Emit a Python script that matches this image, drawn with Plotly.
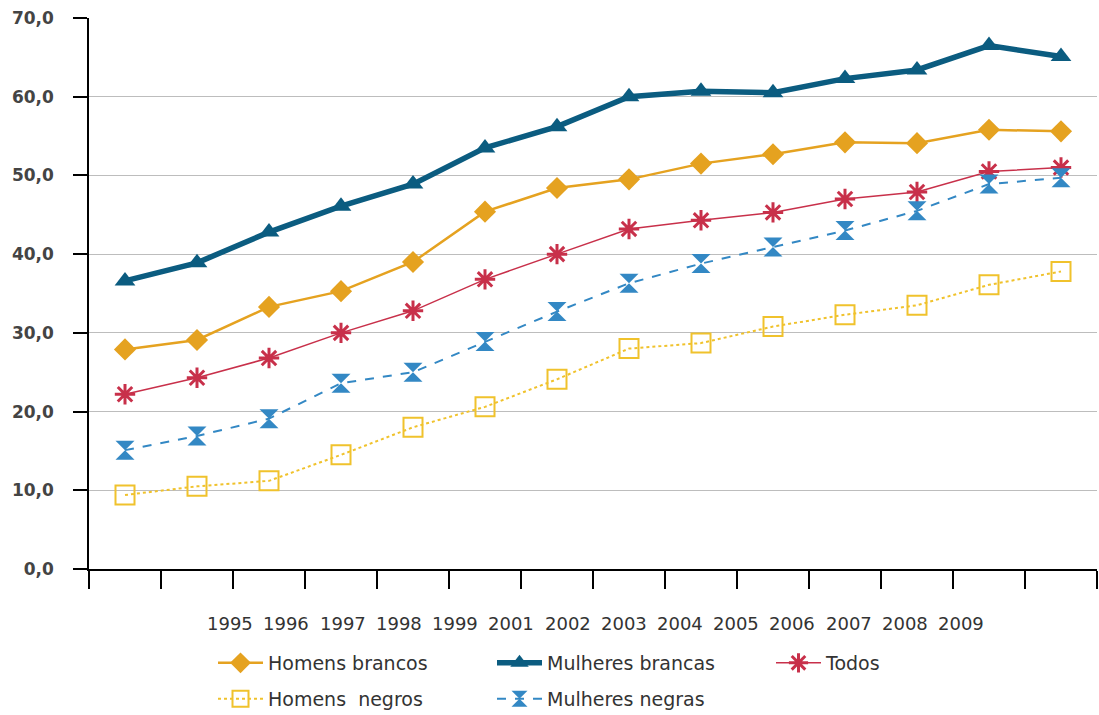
import plotly.graph_objects as go

# ---- data ----
year_labels = ["1995", "1996", "1997", "1998", "1999", "2001", "2002",
               "2003", "2004", "2005", "2006", "2007", "2008", "2009"]
point_index = list(range(14))

homens_brancos = [27.9, 29.1, 33.3, 35.3, 39.0, 45.4, 48.4, 49.5, 51.5, 52.7, 54.2, 54.1, 55.8, 55.6]
mulheres_brancas = [36.6, 38.9, 42.8, 46.1, 48.9, 53.5, 56.2, 60.0, 60.7, 60.5, 62.3, 63.4, 66.5, 65.1]
todos = [22.2, 24.3, 26.8, 30.0, 32.8, 36.8, 40.0, 43.2, 44.3, 45.3, 47.0, 47.9, 50.5, 51.0]
homens_negros = [9.4, 10.5, 11.2, 14.5, 18.0, 20.6, 24.1, 28.0, 28.7, 30.8, 32.3, 33.5, 36.1, 37.8]
mulheres_negras = [15.1, 16.9, 19.1, 23.6, 25.0, 28.9, 32.7, 36.3, 38.8, 40.9, 43.0, 45.5, 48.9, 49.7]

# ---- styling ----
FONT = "DejaVu Sans"
TXT = "#333333"
C_HB = "#E5A220"
C_MB = "#0B5C80"
C_TD = "#C8304A"
C_HN = "#F0C22C"
C_MN = "#3388C4"

# points sit in the middle of each category slot
xs = [i + 0.5 for i in point_index]

fig = go.Figure()

fig.add_trace(go.Scatter(
    x=xs, y=homens_brancos, name="Homens brancos", mode="lines+markers",
    line=dict(color=C_HB, width=2.5),
    marker=dict(symbol="diamond", size=17, color=C_HB),
    legend="legend"))
fig.add_trace(go.Scatter(
    x=xs, y=mulheres_brancas, name="Mulheres brancas", mode="lines+markers",
    line=dict(color=C_MB, width=5.5),
    marker=dict(symbol="triangle-up", size=18, color=C_MB),
    legend="legend"))
fig.add_trace(go.Scatter(
    x=xs, y=todos, name="Todos", mode="lines+markers",
    line=dict(color=C_TD, width=1.5),
    marker=dict(symbol="asterisk-open", size=17, color=C_TD,
                line=dict(color=C_TD, width=3)),
    legend="legend"))
fig.add_trace(go.Scatter(
    x=xs, y=homens_negros, name="Homens\u00a0 negros", mode="lines+markers",
    line=dict(color=C_HN, width=2, dash="dot"),
    marker=dict(symbol="square-open", size=19, color=C_HN,
                line=dict(color=C_HN, width=2)),
    legend="legend2"))
fig.add_trace(go.Scatter(
    x=xs, y=mulheres_negras, name="Mulheres negras", mode="lines+markers",
    line=dict(color=C_MN, width=2, dash="dash"),
    marker=dict(symbol="hourglass", size=19, color=C_MN),
    legend="legend2"))

# year labels are compressed relative to the category ticks (as in the source)
label_start = 1.96
label_step = 0.781
label_pos = [label_start + label_step * i for i in range(len(year_labels))]
annotations = [
    dict(x=p, y=0, xref="x", yref="paper", text=t, showarrow=False,
         xanchor="center", yanchor="middle", yshift=-54,
         font=dict(family=FONT, size=18, color=TXT))
    for p, t in zip(label_pos, year_labels)
]

legend_common = dict(
    orientation="h", xref="container", yref="container",
    xanchor="left", yanchor="middle",
    font=dict(family=FONT, size=19, color=TXT),
    bgcolor="rgba(0,0,0,0)", entrywidth=219, entrywidthmode="pixels",
    itemsizing="trace", itemwidth=45, traceorder="normal",
)

fig.update_layout(
    width=1099, height=715,
    margin=dict(l=89, r=2, t=18, b=146),
    paper_bgcolor="white", plot_bgcolor="white",
    font=dict(family=FONT, size=18, color=TXT),
    separators=",.",
    showlegend=True,
    legend=dict(x=213 / 1099, y=1 - 663 / 715, **legend_common),
    legend2=dict(x=213 / 1099, y=1 - 699 / 715, **legend_common),
    annotations=annotations,
    xaxis=dict(
        range=[0, 14], tickvals=list(range(15)), showticklabels=False,
        ticks="outside", ticklen=18, tickwidth=1.5, tickcolor="#000",
        showline=True, linecolor="#000", linewidth=1.5,
        showgrid=False, zeroline=False, fixedrange=True,
    ),
    yaxis=dict(
        range=[0, 70], tickvals=[0, 10, 20, 30, 40, 50, 60, 70],
        tickformat=".1f",
        ticks="outside", ticklen=14, tickwidth=1.5, tickcolor="#000",
        showline=True, linecolor="#000", linewidth=1.5,
        showgrid=True, gridcolor="#BDBDBD", gridwidth=1,
        zeroline=False, ticklabelstandoff=16,
        tickfont=dict(family=FONT, size=17, color="#444", weight="bold"),
    ),
)

fig.write_html("out.html")
